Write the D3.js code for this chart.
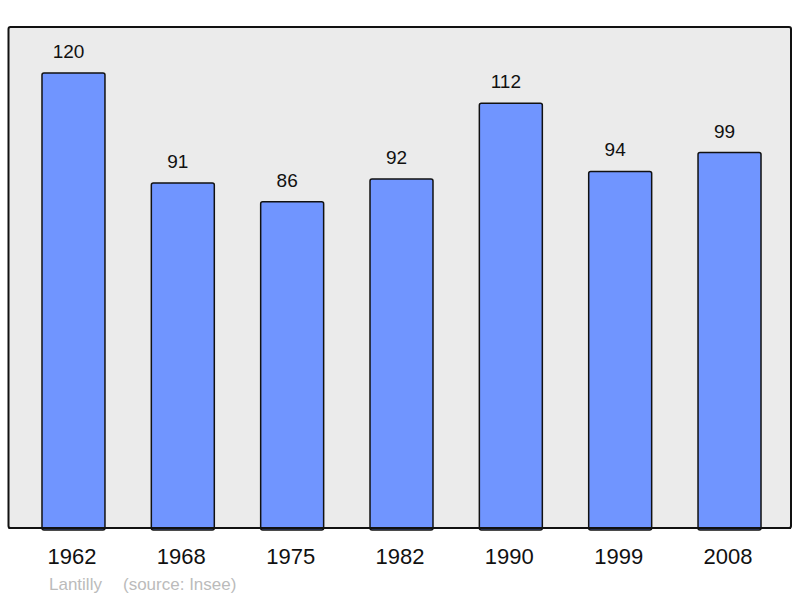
<!DOCTYPE html>
<html>
<head>
<meta charset="utf-8">
<script src="https://d3js.org/d3.v7.min.js"></script>
<style>
  body { margin: 0; background: #fff; }
  text { font-family: "Liberation Sans", Arial, sans-serif; }
</style>
</head>
<body>
<div id="chart"></div>
<script>
// data
var years = ["1962", "1968", "1975", "1982", "1990", "1999", "2008"];
var population = [120, 91, 86, 92, 112, 94, 99];
var place = "Lantilly";
var source = "(source: Insee)";

var svgWidth = 800;
var svgHeight = 598;

var panel = { left: 8.5, top: 27, right: 791, bottom: 528 };

var svg = d3.select("#chart")
  .append("svg")
  .attr("width", svgWidth)
  .attr("height", svgHeight);

// background panel
svg.append("rect")
  .attr("x", panel.left)
  .attr("y", panel.top)
  .attr("width", panel.right - panel.left)
  .attr("height", panel.bottom - panel.top)
  .attr("rx", 2)
  .attr("fill", "#ebebeb")
  .attr("stroke", "#111")
  .attr("stroke-width", 2);

var xScale = d3.scaleBand()
  .domain(years)
  .range([17.5, 785.5])
  .paddingInner(0.424)
  .paddingOuter(0.224);

var yScale = d3.scaleLinear()
  .domain([0, 132.1])
  .range([panel.bottom, panel.top]);

var rows = years.map((y, i) => ({ year: y, value: population[i] }));

// bars
svg.selectAll(".bar")
  .data(rows)
  .enter()
  .append("rect")
  .attr("class", "bar")
  .attr("x", d => xScale(d.year))
  .attr("y", d => yScale(d.value))
  .attr("width", xScale.bandwidth())
  .attr("height", d => panel.bottom - yScale(d.value) + 2)
  .attr("rx", 2)
  .attr("fill", "#7095ff")
  .attr("stroke", "#111")
  .attr("stroke-width", 1.5);

// redraw bottom border on top of bars
svg.append("line")
  .attr("x1", panel.left)
  .attr("x2", panel.right)
  .attr("y1", panel.bottom)
  .attr("y2", panel.bottom)
  .attr("stroke", "#111")
  .attr("stroke-width", 2);

// value labels (sit a little left of bar centre, as in the original)
svg.selectAll(".val")
  .data(rows)
  .enter()
  .append("text")
  .attr("class", "val")
  .attr("x", d => xScale(d.year) + xScale.bandwidth() / 2 - 5)
  .attr("y", d => yScale(d.value) - 15)
  .attr("text-anchor", "middle")
  .attr("font-size", 19)
  .attr("fill", "#111")
  .text(d => d.value);

// x axis labels
var xAxis = d3.axisBottom(xScale).tickSize(0).tickPadding(0);
var axisG = svg.append("g")
  .attr("transform", `translate(0, ${panel.bottom})`)
  .call(xAxis);
axisG.select(".domain").remove();
axisG.selectAll("text")
  .attr("x", -1.5)
  .attr("y", 0)
  .attr("dy", 36)
  .attr("font-size", 22)
  .attr("font-family", "Liberation Sans, Arial, sans-serif")
  .attr("fill", "#111");

// footer
svg.append("text")
  .attr("x", 49)
  .attr("y", 590)
  .attr("font-size", 17)
  .attr("fill", "#bbb")
  .text(place);

svg.append("text")
  .attr("x", 123)
  .attr("y", 590)
  .attr("font-size", 17)
  .attr("fill", "#bbb")
  .text(source);
</script>
</body>
</html>
